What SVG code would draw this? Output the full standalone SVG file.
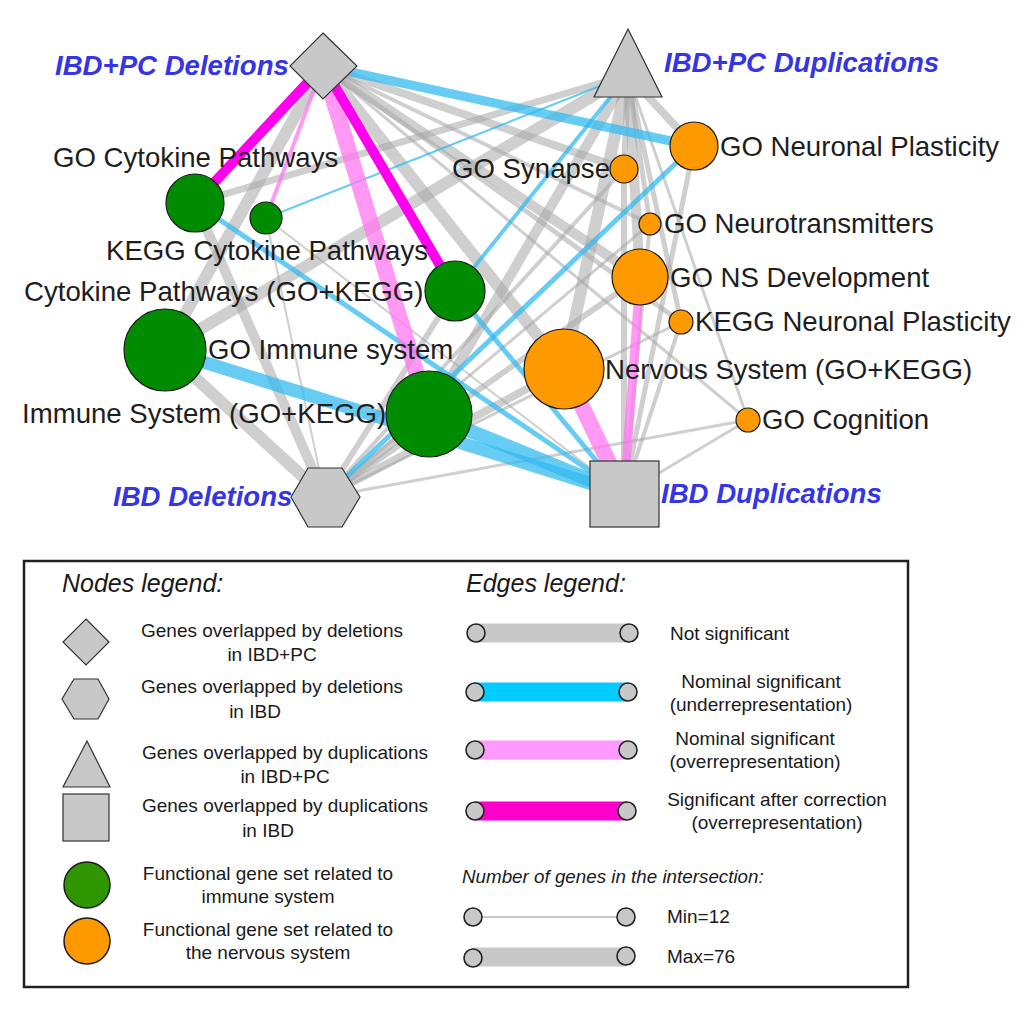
<svg xmlns="http://www.w3.org/2000/svg" width="1024" height="1024" viewBox="0 0 1024 1024">
<style>
text{font-family:"Liberation Sans",Arial,sans-serif}
.lbl{font-size:27.6px;fill:#1e1e1e}
.hub{font-size:27.6px;fill:#3535e6;font-weight:bold;font-style:italic}
.g{stroke:#a8a8a8;stroke-opacity:0.55;fill:none}
.b{stroke:#33bbf0;stroke-opacity:0.75;fill:none}
.p{stroke:#ff77f0;stroke-opacity:0.75;fill:none}
.m{stroke:#ff00ee;fill:none}
.hs{fill:#c8c8c8;stroke:#333;stroke-width:1.2}
.imm{fill:#008c00;stroke:#1a1a1a;stroke-width:1.2}
.nrv{fill:#ff9900;stroke:#1a1a1a;stroke-width:1.2}
.lt{font-size:19px;fill:#1a1a1a}
.lh{font-size:25px;font-style:italic;fill:#1a1a1a}
.ec{fill:#c8c8c8;stroke:#222;stroke-width:1.6}
</style>
<rect width="1024" height="1024" fill="#fff"/>
<g id="edges">
<line class="g" x1="323" y1="66" x2="165" y2="350" stroke-width="12"/>
<line class="g" x1="323" y1="66" x2="624" y2="169" stroke-width="8"/>
<line class="g" x1="323" y1="66" x2="650" y2="224" stroke-width="4"/>
<line class="g" x1="323" y1="66" x2="640" y2="277" stroke-width="10"/>
<line class="g" x1="323" y1="66" x2="681" y2="322" stroke-width="5"/>
<line class="g" x1="323" y1="66" x2="564" y2="369" stroke-width="12"/>
<line class="g" x1="323" y1="66" x2="748" y2="420" stroke-width="3"/>
<line class="g" x1="628" y1="75" x2="195" y2="203" stroke-width="7"/>
<line class="g" x1="628" y1="75" x2="165" y2="350" stroke-width="12"/>
<line class="g" x1="628" y1="75" x2="429" y2="414" stroke-width="10"/>
<line class="g" x1="628" y1="75" x2="624" y2="169" stroke-width="6"/>
<line class="g" x1="628" y1="75" x2="694" y2="146" stroke-width="8"/>
<line class="g" x1="628" y1="75" x2="650" y2="224" stroke-width="5"/>
<line class="g" x1="628" y1="75" x2="640" y2="277" stroke-width="10"/>
<line class="g" x1="628" y1="75" x2="681" y2="322" stroke-width="5"/>
<line class="g" x1="628" y1="75" x2="564" y2="369" stroke-width="12"/>
<line class="g" x1="628" y1="75" x2="748" y2="420" stroke-width="3"/>
<line class="g" x1="325" y1="497" x2="195" y2="203" stroke-width="10"/>
<line class="g" x1="325" y1="497" x2="266" y2="218" stroke-width="2"/>
<line class="g" x1="325" y1="497" x2="455" y2="291" stroke-width="6"/>
<line class="g" x1="325" y1="497" x2="165" y2="350" stroke-width="12"/>
<line class="g" x1="325" y1="497" x2="429" y2="414" stroke-width="8"/>
<line class="g" x1="325" y1="497" x2="624" y2="169" stroke-width="4"/>
<line class="g" x1="325" y1="497" x2="650" y2="224" stroke-width="3"/>
<line class="g" x1="325" y1="497" x2="640" y2="277" stroke-width="6"/>
<line class="g" x1="325" y1="497" x2="681" y2="322" stroke-width="3"/>
<line class="g" x1="325" y1="497" x2="564" y2="369" stroke-width="8"/>
<line class="g" x1="325" y1="497" x2="748" y2="420" stroke-width="3"/>
<line class="g" x1="624" y1="494" x2="266" y2="218" stroke-width="2"/>
<line class="g" x1="624" y1="494" x2="624" y2="169" stroke-width="6"/>
<line class="g" x1="624" y1="494" x2="694" y2="146" stroke-width="5"/>
<line class="g" x1="624" y1="494" x2="650" y2="224" stroke-width="4"/>
<line class="g" x1="624" y1="494" x2="681" y2="322" stroke-width="4"/>
<line class="g" x1="624" y1="494" x2="748" y2="420" stroke-width="3"/>
<line class="b" x1="323" y1="66" x2="694" y2="146" stroke-width="9"/>
<line class="b" x1="628" y1="75" x2="266" y2="218" stroke-width="2"/>
<line class="b" x1="628" y1="75" x2="455" y2="291" stroke-width="4"/>
<line class="b" x1="325" y1="497" x2="694" y2="146" stroke-width="5"/>
<line class="b" x1="624" y1="494" x2="195" y2="203" stroke-width="5"/>
<line class="b" x1="624" y1="494" x2="455" y2="291" stroke-width="5"/>
<line class="b" x1="624" y1="494" x2="165" y2="350" stroke-width="13"/>
<line class="b" x1="624" y1="494" x2="429" y2="414" stroke-width="14"/>
<line class="p" x1="323" y1="66" x2="266" y2="218" stroke-width="4"/>
<line class="p" x1="323" y1="66" x2="429" y2="414" stroke-width="16"/>
<line class="p" x1="624" y1="494" x2="640" y2="277" stroke-width="9"/>
<line class="p" x1="624" y1="494" x2="564" y2="369" stroke-width="16"/>
<line class="m" x1="323" y1="66" x2="195" y2="203" stroke-width="10"/>
<line class="m" x1="323" y1="66" x2="455" y2="291" stroke-width="10"/>
</g>
<g id="n-ibdpc-del"><polygon class="hs" points="323,33 357,66 323,99 290,66"/><text class="hub" x="55" y="75">IBD+PC Deletions</text></g>
<g id="n-ibdpc-dup"><polygon class="hs" points="628,29 662,97 594,97"/><text class="hub" x="664" y="72">IBD+PC Duplications</text></g>
<g id="n-ibd-del"><polygon class="hs" points="291,497 308,468 342,468 360,497 342,527 308,527"/><text class="hub" x="113" y="506">IBD Deletions</text></g>
<g id="n-ibd-dup"><rect class="hs" x="590" y="461" width="69" height="66"/><text class="hub" x="661" y="503">IBD Duplications</text></g>
<g id="n-go-cyto"><circle class="imm" cx="195" cy="203" r="29"/><text class="lbl" x="53" y="167">GO Cytokine Pathways</text></g>
<g id="n-kegg-cyto"><circle class="imm" cx="266" cy="218" r="16"/><text class="lbl" x="106" y="260">KEGG Cytokine Pathways</text></g>
<g id="n-cyto-gk"><circle class="imm" cx="455" cy="291" r="30"/><text class="lbl" x="24" y="301">Cytokine Pathways (GO+KEGG)</text></g>
<g id="n-go-imm"><circle class="imm" cx="165" cy="350" r="41"/><text class="lbl" x="208" y="359">GO Immune system</text></g>
<g id="n-imm-gk"><circle class="imm" cx="429" cy="414" r="43"/><text class="lbl" x="22" y="423">Immune System (GO+KEGG)</text></g>
<g id="n-go-syn"><circle class="nrv" cx="624" cy="169" r="14"/><text class="lbl" x="452" y="178">GO Synapse</text></g>
<g id="n-go-np"><circle class="nrv" cx="694" cy="146" r="24"/><text class="lbl" x="720" y="156">GO Neuronal Plasticity</text></g>
<g id="n-go-nt"><circle class="nrv" cx="650" cy="224" r="11"/><text class="lbl" x="664" y="233">GO Neurotransmitters</text></g>
<g id="n-go-nsd"><circle class="nrv" cx="640" cy="277" r="28"/><text class="lbl" x="670" y="287">GO NS Development</text></g>
<g id="n-kegg-np"><circle class="nrv" cx="681" cy="322" r="12"/><text class="lbl" x="695" y="331">KEGG Neuronal Plasticity</text></g>
<g id="n-ns-gk"><circle class="nrv" cx="564" cy="369" r="40"/><text class="lbl" x="605" y="379">Nervous System (GO+KEGG)</text></g>
<g id="n-go-cog"><circle class="nrv" cx="748" cy="420" r="12"/><text class="lbl" x="762" y="429">GO Cognition</text></g>
<g id="legend">
<rect x="24" y="561" width="884" height="426" fill="none" stroke="#222" stroke-width="2.5"/>
<text class="lh" x="62" y="592">Nodes legend:</text>
<text class="lh" x="466" y="592">Edges legend:</text>
<polygon class="hs" points="86,619 109,642 86,665 63,642"/>
<polygon class="hs" points="62,699 74,679 98,679 109,699 98,719 74,719"/>
<polygon class="hs" points="87,741 110,787 63,787"/>
<rect class="hs" x="63" y="794" width="46" height="47"/>
<circle cx="87" cy="885" r="23" fill="#2f9600" stroke="#1a1a1a" stroke-width="1.5"/>
<circle cx="87" cy="941" r="23" fill="#ff9900" stroke="#1a1a1a" stroke-width="1.5"/>
<g class="lt" text-anchor="middle">
<text x="272" y="637">Genes overlapped by deletions</text>
<text x="272" y="661">in IBD+PC</text>
<text x="272" y="693">Genes overlapped by deletions</text>
<text x="255" y="718">in IBD</text>
<text x="285" y="759">Genes overlapped by duplications</text>
<text x="285" y="783">in IBD+PC</text>
<text x="285" y="812">Genes overlapped by duplications</text>
<text x="268" y="837">in IBD</text>
<text x="268" y="880">Functional gene set related to</text>
<text x="268" y="903">immune system</text>
<text x="268" y="936">Functional gene set related to</text>
<text x="268" y="959">the nervous system</text>
</g>
<line x1="476" y1="633" x2="629" y2="633" stroke="#c8c8c8" stroke-width="19"/>
<circle class="ec" cx="476" cy="633" r="9"/><circle class="ec" cx="629" cy="633" r="9"/>
<line x1="475" y1="692" x2="628" y2="692" stroke="#00ccff" stroke-width="19"/>
<circle class="ec" cx="475" cy="692" r="9"/><circle class="ec" cx="628" cy="692" r="9"/>
<line x1="475" y1="750" x2="628" y2="750" stroke="#ff99ff" stroke-width="19"/>
<circle class="ec" cx="475" cy="750" r="9"/><circle class="ec" cx="628" cy="750" r="9"/>
<line x1="475" y1="811" x2="627" y2="811" stroke="#ff00cc" stroke-width="19"/>
<circle class="ec" cx="475" cy="811" r="9"/><circle class="ec" cx="627" cy="811" r="9"/>
<line x1="473" y1="917" x2="626" y2="917" stroke="#c8c8c8" stroke-width="2"/>
<circle class="ec" cx="473" cy="917" r="9"/><circle class="ec" cx="626" cy="917" r="9"/>
<line x1="473" y1="957" x2="626" y2="957" stroke="#c8c8c8" stroke-width="19"/>
<circle class="ec" cx="473" cy="958" r="9"/><circle class="ec" cx="626" cy="956" r="9"/>
<text class="lt" x="670" y="640">Not significant</text>
<g class="lt" text-anchor="middle">
<text x="761" y="688">Nominal significant</text>
<text x="761" y="711">(underrepresentation)</text>
<text x="755" y="745">Nominal significant</text>
<text x="755" y="768">(overrepresentation)</text>
<text x="777" y="806">Significant after correction</text>
<text x="777" y="829">(overrepresentation)</text>
</g>
<text x="462" y="883" font-size="18.8" font-style="italic" fill="#1a1a1a">Number of genes in the intersection:</text>
<text class="lt" x="667" y="923">Min=12</text>
<text class="lt" x="667" y="963">Max=76</text>
</g>
</svg>
